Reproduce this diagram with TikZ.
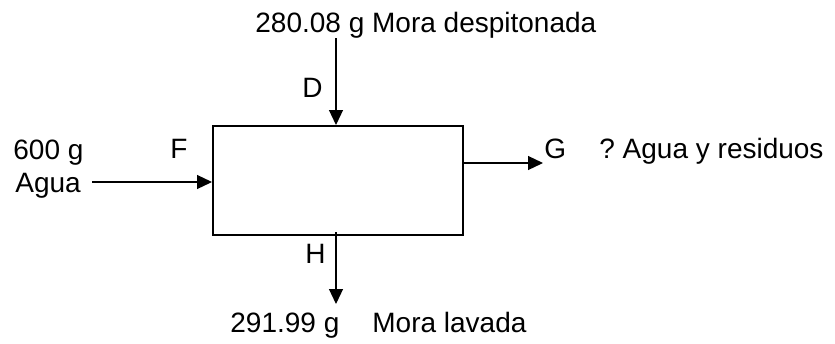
\documentclass[tikz,border=0pt]{standalone}
\usepackage{fontspec}
\setmainfont{Liberation Sans}
\usetikzlibrary{arrows.meta}
\begin{document}
\frenchspacing
\begin{tikzpicture}[x=0.5pt,y=-0.5pt,
  lbl/.style={inner sep=0pt,anchor=base west,font=\fontsize{14}{17}\selectfont},
  flow/.style={line width=0.6pt,-{Triangle[length=7.5pt,width=7pt]}},
  unit/.style={draw,line width=1pt,inner sep=0pt,minimum width=125pt,minimum height=54.5pt}]
\useasboundingbox (0,0) rectangle (835,343);
\node[unit] (box) at (338,180.5) {};
% free ends
\coordinate (d0) at (336,38);
\coordinate (f0) at (92,182);
\coordinate (g1) at (543,163);
\coordinate (h0) at (336,232);
\coordinate (h1) at (336,304);
% connectors
\draw[flow] (d0) -- (d0 |- box.north);
\draw[flow] (f0) -- (f0 -| box.west);
\draw[flow] (g1 -| box.east) -- (g1);
\draw[flow] (h0) -- (h1);
% labels
\node[lbl] (ttop) at (255,32) {280.08 g Mora despitonada};
\node[lbl] (tD) at (302,97) {D};
\node[lbl] (t600) at (13,159) {600 g};
\node[lbl] (tagua) at (15,192) {Agua};
\node[lbl] (tF) at (170,158) {F};
\node[lbl] (tG) at (544,158) {G};
\node[lbl] (tres) at (599,158) {?\ Agua y residuos};
\node[lbl] (tH) at (305,263) {H};
\node[lbl] (tbot) at (230,332) {291.99 g};
\node[lbl] (tmora) at (372,332) {Mora lavada};
\end{tikzpicture}
\end{document}
